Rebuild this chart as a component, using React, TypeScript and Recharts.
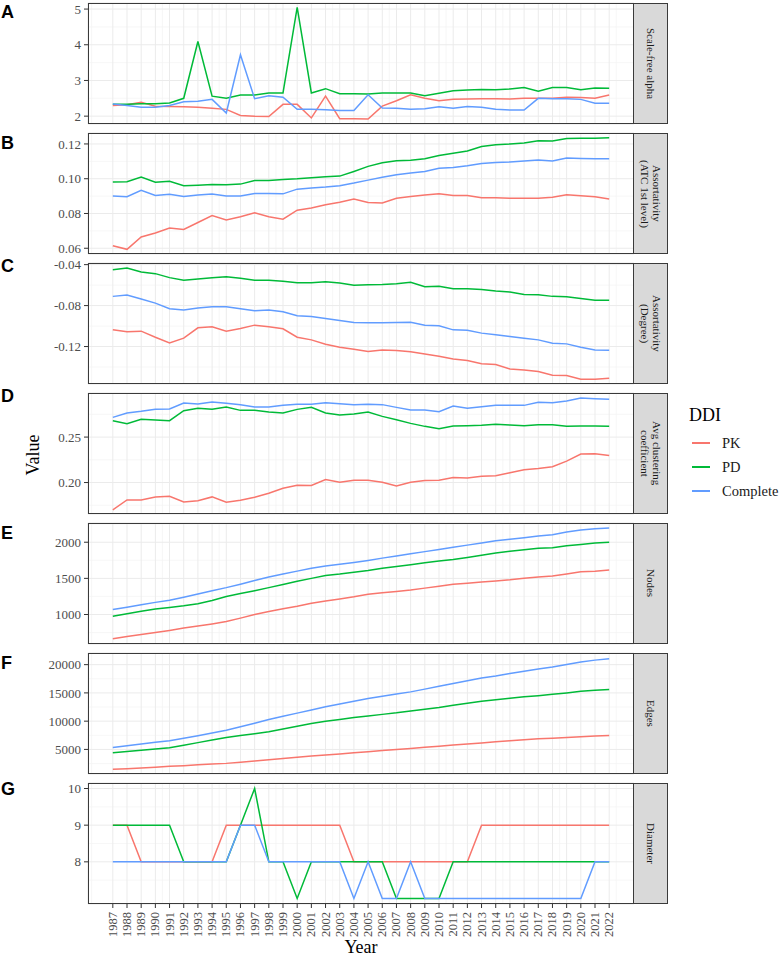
import { CartesianGrid, Line, LineChart, XAxis, YAxis } from 'recharts'

const years = [
  1987, 1988, 1989, 1990, 1991, 1992, 1993, 1994, 1995, 1996, 1997, 1998, 1999, 2000, 2001, 2002, 2003, 2004,
  2005, 2006, 2007, 2008, 2009, 2010, 2011, 2012, 2013, 2014, 2015, 2016, 2017, 2018, 2019, 2020, 2021, 2022,
]

const alphaPK = [2.3, 2.32, 2.39, 2.28, 2.27, 2.26, 2.25, 2.22, 2.19, 2.02, 2.0, 1.99, 2.33, 2.33, 1.95, 2.56, 1.93, 1.93, 1.92, 2.28, 2.43, 2.6, 2.5, 2.43, 2.47, 2.48, 2.49, 2.49, 2.48, 2.5, 2.5, 2.5, 2.53, 2.52, 2.5, 2.59]
const alphaPD = [2.33, 2.33, 2.35, 2.35, 2.37, 2.5, 4.09, 2.56, 2.5, 2.59, 2.59, 2.65, 2.65, 5.05, 2.65, 2.77, 2.63, 2.63, 2.62, 2.65, 2.65, 2.65, 2.57, 2.64, 2.71, 2.73, 2.75, 2.74, 2.76, 2.8, 2.7, 2.8, 2.8, 2.74, 2.79, 2.78]
const alphaComplete = [2.34, 2.3, 2.25, 2.25, 2.3, 2.4, 2.42, 2.47, 2.09, 3.72, 2.49, 2.57, 2.53, 2.19, 2.19, 2.18, 2.16, 2.16, 2.6, 2.23, 2.22, 2.19, 2.21, 2.26, 2.22, 2.27, 2.25, 2.19, 2.17, 2.17, 2.5, 2.49, 2.49, 2.47, 2.36, 2.36]

const atcPK = [0.0615, 0.0594, 0.0665, 0.0688, 0.0717, 0.0708, 0.0748, 0.0788, 0.0763, 0.0781, 0.0804, 0.0781, 0.0767, 0.0819, 0.0831, 0.085, 0.0865, 0.0883, 0.0863, 0.086, 0.0888, 0.0898, 0.0906, 0.0913, 0.0904, 0.0904, 0.089, 0.089, 0.0888, 0.0888, 0.0887, 0.0894, 0.0908, 0.0902, 0.0896, 0.0883]
const atcPD = [0.0981, 0.0983, 0.101, 0.098, 0.0985, 0.096, 0.0963, 0.0967, 0.0965, 0.0969, 0.099, 0.099, 0.0996, 0.1, 0.1006, 0.1012, 0.1015, 0.1042, 0.1071, 0.1092, 0.1104, 0.1106, 0.1115, 0.1133, 0.1146, 0.116, 0.1185, 0.1196, 0.12, 0.1206, 0.1219, 0.1217, 0.1231, 0.1233, 0.1233, 0.1235]
const atcComplete = [0.09, 0.0896, 0.0933, 0.0904, 0.091, 0.0898, 0.0906, 0.0912, 0.09, 0.09, 0.0915, 0.0915, 0.0913, 0.094, 0.0946, 0.0952, 0.096, 0.0975, 0.0992, 0.1008, 0.1023, 0.1033, 0.1042, 0.106, 0.1065, 0.1075, 0.1087, 0.1094, 0.1096, 0.1102, 0.1108, 0.1102, 0.1119, 0.1117, 0.1115, 0.1115]

const degPK = [-0.1037, -0.1056, -0.105, -0.1109, -0.1164, -0.1118, -0.1017, -0.1007, -0.105, -0.1024, -0.0991, -0.1007, -0.1027, -0.1109, -0.1135, -0.1177, -0.1207, -0.1226, -0.1249, -0.1233, -0.1239, -0.1252, -0.1272, -0.1294, -0.1321, -0.1337, -0.1369, -0.1376, -0.1419, -0.1429, -0.1445, -0.1481, -0.1484, -0.152, -0.152, -0.151]
const degPD = [-0.0449, -0.0433, -0.0472, -0.0488, -0.0527, -0.0553, -0.054, -0.0527, -0.0518, -0.0534, -0.0553, -0.0553, -0.0563, -0.0576, -0.0576, -0.0567, -0.058, -0.0602, -0.0596, -0.0593, -0.0586, -0.0573, -0.0616, -0.0612, -0.0635, -0.0635, -0.0642, -0.0658, -0.0668, -0.0691, -0.0694, -0.071, -0.0713, -0.073, -0.0749, -0.0749]
const degComplete = [-0.071, -0.0697, -0.0736, -0.0776, -0.0831, -0.0844, -0.0824, -0.0811, -0.0811, -0.0831, -0.0851, -0.0844, -0.086, -0.09, -0.0906, -0.0926, -0.0945, -0.0965, -0.0968, -0.0968, -0.0965, -0.0962, -0.0991, -0.0998, -0.1037, -0.104, -0.1069, -0.1086, -0.1102, -0.1118, -0.1135, -0.1167, -0.1174, -0.1207, -0.1233, -0.1236]

const clusterPK = [0.17, 0.1809, 0.1809, 0.1842, 0.1849, 0.1787, 0.1801, 0.1842, 0.1783, 0.1805, 0.1838, 0.1882, 0.1938, 0.1971, 0.1967, 0.2033, 0.2004, 0.2026, 0.2026, 0.2004, 0.1963, 0.2004, 0.2022, 0.2026, 0.2055, 0.2051, 0.207, 0.2074, 0.2107, 0.214, 0.2154, 0.2173, 0.2235, 0.2313, 0.2316, 0.2298]
const clusterPD = [0.268, 0.2647, 0.2695, 0.2688, 0.268, 0.279, 0.2816, 0.2805, 0.2831, 0.2794, 0.2794, 0.2776, 0.2765, 0.2805, 0.2827, 0.2765, 0.2743, 0.2754, 0.2776, 0.2728, 0.2691, 0.2651, 0.2618, 0.2592, 0.2621, 0.2625, 0.2629, 0.264, 0.2632, 0.2625, 0.2636, 0.2636, 0.2618, 0.2621, 0.2621, 0.2618]
const clusterComplete = [0.2717, 0.2765, 0.2783, 0.2805, 0.2809, 0.2875, 0.2864, 0.2886, 0.2871, 0.2857, 0.2831, 0.2831, 0.2849, 0.286, 0.286, 0.2879, 0.2868, 0.2857, 0.286, 0.2857, 0.2827, 0.2798, 0.2798, 0.2779, 0.2842, 0.2816, 0.2835, 0.2849, 0.2849, 0.2849, 0.2882, 0.2879, 0.2897, 0.293, 0.2923, 0.2915]

const nodesPK = [665, 695, 722, 750, 780, 812, 840, 870, 904, 950, 1000, 1041, 1080, 1115, 1155, 1188, 1215, 1245, 1280, 1300, 1320, 1339, 1365, 1392, 1417, 1432, 1450, 1465, 1480, 1500, 1520, 1532, 1560, 1590, 1600, 1615]
const nodesPD = [977, 1010, 1045, 1075, 1096, 1120, 1150, 1195, 1250, 1290, 1330, 1372, 1415, 1460, 1500, 1541, 1560, 1585, 1610, 1640, 1665, 1690, 1715, 1740, 1761, 1790, 1820, 1850, 1875, 1895, 1915, 1925, 1950, 1970, 1988, 2000]
const nodesComplete = [1069, 1100, 1135, 1168, 1197, 1240, 1285, 1330, 1372, 1420, 1470, 1518, 1560, 1600, 1640, 1670, 1695, 1720, 1748, 1780, 1810, 1839, 1870, 1900, 1931, 1960, 1990, 2020, 2040, 2062, 2085, 2105, 2140, 2170, 2185, 2197]

const edgesPK = [1470, 1600, 1730, 1860, 2000, 2130, 2270, 2400, 2530, 2720, 2930, 3150, 3400, 3620, 3820, 4000, 4200, 4400, 4590, 4790, 4990, 5180, 5370, 5560, 5760, 5950, 6150, 6350, 6520, 6700, 6880, 6980, 7120, 7250, 7370, 7470]
const edgesPD = [4412, 4640, 4860, 5080, 5290, 5740, 6200, 6660, 7120, 7450, 7790, 8120, 8610, 9100, 9590, 9970, 10300, 10650, 10930, 11200, 11470, 11800, 12100, 12410, 12800, 13150, 13530, 13800, 14050, 14300, 14500, 14750, 15000, 15300, 15450, 15590]
const edgesComplete = [5350, 5650, 5950, 6250, 6530, 6980, 7430, 7900, 8410, 9000, 9640, 10290, 10850, 11420, 11980, 12530, 13020, 13510, 14000, 14400, 14790, 15180, 15670, 16160, 16650, 17150, 17650, 18000, 18450, 18850, 19230, 19590, 20030, 20470, 20800, 21060]

const diamPK = [9, 9, 8, 8, 8, 8, 8, 8, 9, 9, 9, 9, 9, 9, 9, 9, 9, 8, 8, 8, 8, 8, 8, 8, 8, 8, 9, 9, 9, 9, 9, 9, 9, 9, 9, 9]
const diamPD = [9, 9, 9, 9, 9, 8, 8, 8, 8, 9, 10, 8, 8, 7, 8, 8, 8, 8, 8, 8, 7, 7, 7, 7, 8, 8, 8, 8, 8, 8, 8, 8, 8, 8, 8, 8]
const diamComplete = [8, 8, 8, 8, 8, 8, 8, 8, 8, 9, 9, 8, 8, 8, 8, 8, 8, 7, 8, 7, 7, 8, 7, 7, 7, 7, 7, 7, 7, 7, 7, 7, 7, 7, 8, 8]

const series = [
  { key: 'PK', color: '#F8766D' },
  { key: 'PD', color: '#00BA38' },
  { key: 'Complete', color: '#619CFF' },
]

const panels = [
  { letter: 'A', strip: ['Scale-free alpha'], pk: alphaPK, pd: alphaPD, complete: alphaComplete, domain: [1.78, 5.17], ticks: [2, 3, 4, 5], minor: [2.5, 3.5, 4.5], digits: 0 },
  { letter: 'B', strip: ['Assortativity', '(ATC 1st level)'], pk: atcPK, pd: atcPD, complete: atcComplete, domain: [0.0567, 0.1263], ticks: [0.06, 0.08, 0.1, 0.12], minor: [0.07, 0.09, 0.11], digits: 2 },
  { letter: 'C', strip: ['Assortativity', '(Degree)'], pk: degPK, pd: degPD, complete: degComplete, domain: [-0.1566, -0.0384], ticks: [-0.12, -0.08, -0.04], minor: [-0.14, -0.1, -0.06], digits: 2 },
  { letter: 'D', strip: ['Avg clustering', 'coefficient'], pk: clusterPK, pd: clusterPD, complete: clusterComplete, domain: [0.1654, 0.2985], ticks: [0.2, 0.25], minor: [0.175, 0.225, 0.275], digits: 2 },
  { letter: 'E', strip: ['Nodes'], pk: nodesPK, pd: nodesPD, complete: nodesComplete, domain: [592, 2266], ticks: [1000, 1500, 2000], minor: [750, 1250, 1750, 2250], digits: 0 },
  { letter: 'F', strip: ['Edges'], pk: edgesPK, pd: edgesPD, complete: edgesComplete, domain: [650, 22060], ticks: [5000, 10000, 15000, 20000], minor: [2500, 7500, 12500, 17500], digits: 0 },
  { letter: 'G', strip: ['Diameter'], pk: diamPK, pd: diamPD, complete: diamComplete, domain: [6.85, 10.15], ticks: [8, 9, 10], minor: [7, 7.5, 8.5, 9.5], digits: 0 },
]

const panelTops = [3, 133, 263, 393, 523, 653, 783]
const letterTops = [12, 143, 266, 396, 533, 663, 789]
const PANEL_H = 121
const PAD = 10
const PLOT_LEFT = 88
const PLOT_RIGHT = 634
const AXIS_H = 44
const xDomain = [1985.25, 2023.75]
const minorYears = [1985.5, ...years.map((y) => y + 0.5)]

const serif = '"Liberation Serif", "Times New Roman", serif'
const tickStyle = { fontFamily: serif, fontSize: 13, fill: '#4D4D4D' }

function YearTick({ x, y, payload }: any) {
  return (
    <text
      x={x}
      y={y}
      transform={`rotate(-90 ${x} ${y})`}
      textAnchor="end"
      dominantBaseline="central"
      fontFamily={serif}
      fontSize={12.5}
      fill="#4D4D4D"
    >
      {payload.value}
    </text>
  )
}

function Panel({ panel, index }: { panel: (typeof panels)[number]; index: number }) {
  const showX = index === panels.length - 1
  // padding above/below so edge tick labels are not clipped
  const height = PANEL_H + PAD * 2 + (showX ? AXIS_H : 0)
  const top = panelTops[index]
  const rows = years.map((year, i) => ({
    year,
    PK: panel.pk[i],
    PD: panel.pd[i],
    Complete: panel.complete[i],
  }))

  return (
    <>
      <div style={{ position: 'absolute', left: 0, top: top - PAD, width: PLOT_RIGHT, height }}>
        <LineChart width={PLOT_RIGHT} height={height} data={rows} margin={{ top: PAD, right: 0, bottom: PAD, left: 0 }}>
          <XAxis xAxisId="minor" type="number" dataKey="year" domain={xDomain} ticks={minorYears} allowDataOverflow hide />
          <YAxis yAxisId="minor" type="number" domain={panel.domain} ticks={panel.minor} allowDataOverflow hide />
          <XAxis
            xAxisId="main"
            type="number"
            dataKey="year"
            domain={xDomain}
            ticks={years}
            allowDataOverflow
            hide={!showX}
            height={AXIS_H}
            axisLine={false}
            tickSize={4}
            tickMargin={4}
            tickLine={{ stroke: '#333333' }}
            tick={<YearTick />}
            interval={0}
          />
          <YAxis
            yAxisId="main"
            type="number"
            domain={panel.domain}
            ticks={panel.ticks}
            allowDataOverflow
            width={PLOT_LEFT}
            axisLine={false}
            tickSize={4}
            tickMargin={3}
            tickLine={{ stroke: '#333333' }}
            tick={tickStyle}
            interval={0}
            tickFormatter={(v: number) => v.toFixed(panel.digits)}
          />
          <CartesianGrid xAxisId="minor" yAxisId="minor" stroke="#F3F3F3" strokeWidth={0.7} />
          <CartesianGrid xAxisId="main" yAxisId="main" stroke="#EBEBEB" strokeWidth={1} />
          {series.map((s) => (
            <Line
              key={s.key}
              xAxisId="main"
              yAxisId="main"
              type="linear"
              dataKey={s.key}
              stroke={s.color}
              strokeWidth={1.5}
              dot={false}
              isAnimationActive={false}
            />
          ))}
        </LineChart>
      </div>
      <div
        style={{
          position: 'absolute',
          left: PLOT_LEFT,
          top,
          width: PLOT_RIGHT - PLOT_LEFT,
          height: PANEL_H,
          border: '1px solid #3a3a3a',
          boxSizing: 'border-box',
          pointerEvents: 'none',
        }}
      />
      <div
        style={{
          position: 'absolute',
          left: PLOT_RIGHT - 1,
          top,
          width: 35,
          height: PANEL_H,
          background: '#D9D9D9',
          border: '1px solid #3a3a3a',
          boxSizing: 'border-box',
          display: 'flex',
          alignItems: 'center',
          justifyContent: 'center',
        }}
      >
        <div
          style={{
            writingMode: 'vertical-rl',
            fontFamily: serif,
            fontSize: 11,
            lineHeight: '12px',
            color: '#1A1A1A',
            textAlign: 'center',
          }}
        >
          {panel.strip.map((line, i) => (
            <div key={i}>{line}</div>
          ))}
        </div>
      </div>
      <div
        style={{
          position: 'absolute',
          left: 1,
          top: letterTops[index] - 11,
          fontFamily: '"Liberation Sans", Arial, sans-serif',
          fontWeight: 'bold',
          fontSize: 18,
          lineHeight: '22px',
          color: '#000',
        }}
      >
        {panel.letter}
      </div>
    </>
  )
}

export default function App() {
  return (
    <div style={{ position: 'absolute', left: 0, top: 0, width: 782, height: 957, background: '#fff', overflow: 'hidden' }}>
      {panels.map((p, i) => (
        <Panel key={p.letter} panel={p} index={i} />
      ))}
      <div
        style={{
          position: 'absolute',
          left: 33,
          top: 455,
          transform: 'translate(-50%, -50%) rotate(-90deg)',
          fontFamily: serif,
          fontSize: 18,
          color: '#000',
          whiteSpace: 'nowrap',
        }}
      >
        Value
      </div>
      <div
        style={{
          position: 'absolute',
          left: (PLOT_LEFT + PLOT_RIGHT) / 2,
          top: 947,
          transform: 'translate(-50%, -50%)',
          fontFamily: serif,
          fontSize: 18,
          color: '#000',
          whiteSpace: 'nowrap',
        }}
      >
        Year
      </div>
      <div style={{ position: 'absolute', left: 689, top: 404, fontFamily: serif, fontSize: 18, lineHeight: '22px' }}>DDI</div>
      {series.map((s, i) => (
        <div
          key={s.key}
          style={{ position: 'absolute', left: 692, top: 443 + i * 24 - 10, height: 20, display: 'flex', alignItems: 'center' }}
        >
          <span style={{ display: 'inline-block', width: 18, height: 1.5, background: s.color }} />
          <span style={{ marginLeft: 12, fontFamily: serif, fontSize: 14.5, color: '#1A1A1A' }}>{s.key}</span>
        </div>
      ))}
    </div>
  )
}
